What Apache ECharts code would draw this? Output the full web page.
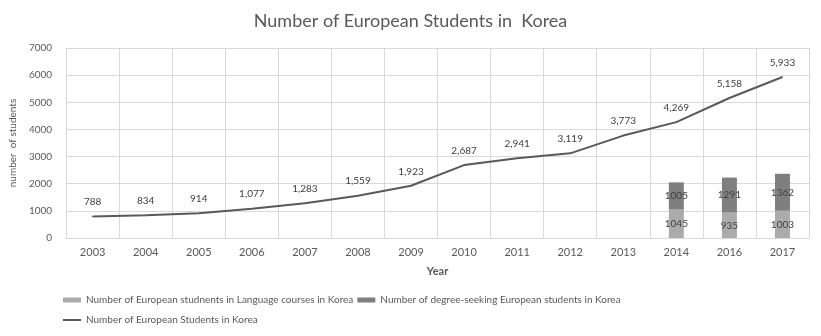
<!DOCTYPE html>
<html>
<head>
<meta charset="utf-8">
<script src="https://cdn.jsdelivr.net/npm/echarts@6/dist/echarts.min.js"></script>
<style>
  html, body { margin: 0; padding: 0; background: #fff; }
  #chart { width: 821px; height: 336px; }
</style>
</head>
<body>
<div id="chart"></div>
<script>
var years = ['2003', '2004', '2005', '2006', '2007', '2008', '2009', '2010', '2011', '2012', '2013', '2014', '2016', '2017'];
var languageStudents = [null, null, null, null, null, null, null, null, null, null, null, 1045, 935, 1003];
var degreeStudents = [null, null, null, null, null, null, null, null, null, null, null, 1005, 1291, 1362];
var totalStudents = [788, 834, 914, 1077, 1283, 1559, 1923, 2687, 2941, 3119, 3773, 4269, 5158, 5933];

var fontFamily = 'Lato, "Open Sans", sans-serif';
var textColor = '#595959';

var chart = echarts.init(document.getElementById('chart'));
var option = {
    animation: false,
    textStyle: { fontFamily: fontFamily },
    title: {
        text: 'Number of European Students in  Korea',
        left: 'center',
        top: 7,
        textStyle: { fontFamily: fontFamily, fontSize: 18, fontWeight: 'normal', color: textColor }
    },
    legend: [{
        left: 58,
        top: 290,
        itemWidth: 18,
        itemHeight: 5,
        itemGap: 4,
        icon: 'rect',
        textStyle: { fontSize: 10, color: textColor },
        data: ['Number of European studnents in Language courses in Korea', 'Number of degree-seeking European students in Korea']
    }, {
        left: 58,
        top: 310,
        itemWidth: 18,
        itemHeight: 2,
        icon: 'rect',
        textStyle: { fontSize: 10, color: textColor },
        data: ['Number of European Students in Korea']
    }],
    grid: { left: 62, right: 12, top: 48, bottom: 98 },
    xAxis: {
        type: 'category',
        data: years,
        name: 'Year',
        nameLocation: 'middle',
        nameGap: 28,
        nameTextStyle: { fontSize: 11, fontWeight: 'bold', color: textColor },
        axisLine: { lineStyle: { color: '#d9d9d9' } },
        axisTick: { show: false },
        axisLabel: { fontSize: 11, color: textColor, margin: 9 },
        splitLine: { show: true, lineStyle: { color: '#d9d9d9' } }
    },
    yAxis: {
        type: 'value',
        min: 0,
        max: 7000,
        interval: 1000,
        name: 'number  of students',
        nameLocation: 'middle',
        nameGap: 44,
        nameTextStyle: { fontSize: 10, color: textColor },
        axisLine: { show: false },
        axisTick: { show: false },
        axisLabel: { fontSize: 10, color: textColor, margin: 14, formatter: function (v) { return String(v); } },
        splitLine: { lineStyle: { color: '#d9d9d9' } }
    },
    series: [{
        name: 'Number of European studnents in Language courses in Korea',
        type: 'bar',
        stack: 'students',
        barWidth: 15,
        data: languageStudents,
        itemStyle: { color: '#ababab' },
        label: { show: true, position: 'inside', fontSize: 10, color: '#404040' }
    }, {
        name: 'Number of degree-seeking European students in Korea',
        type: 'bar',
        stack: 'students',
        barWidth: 15,
        data: degreeStudents,
        itemStyle: { color: '#7f7f7f' },
        label: { show: true, position: 'inside', fontSize: 10, color: '#404040' }
    }, {
        name: 'Number of European Students in Korea',
        type: 'line',
        data: totalStudents,
        symbol: 'circle',
        symbolSize: 1,
        showSymbol: true,
        lineStyle: { color: '#595959', width: 2 },
        itemStyle: { color: '#595959' },
        label: {
            show: true,
            position: 'top',
            distance: 9,
            fontSize: 10,
            color: '#404040',
            formatter: function (p) { return p.value.toLocaleString('en-US'); }
        }
    }]
};
chart.setOption(option);
</script>
</body>
</html>
